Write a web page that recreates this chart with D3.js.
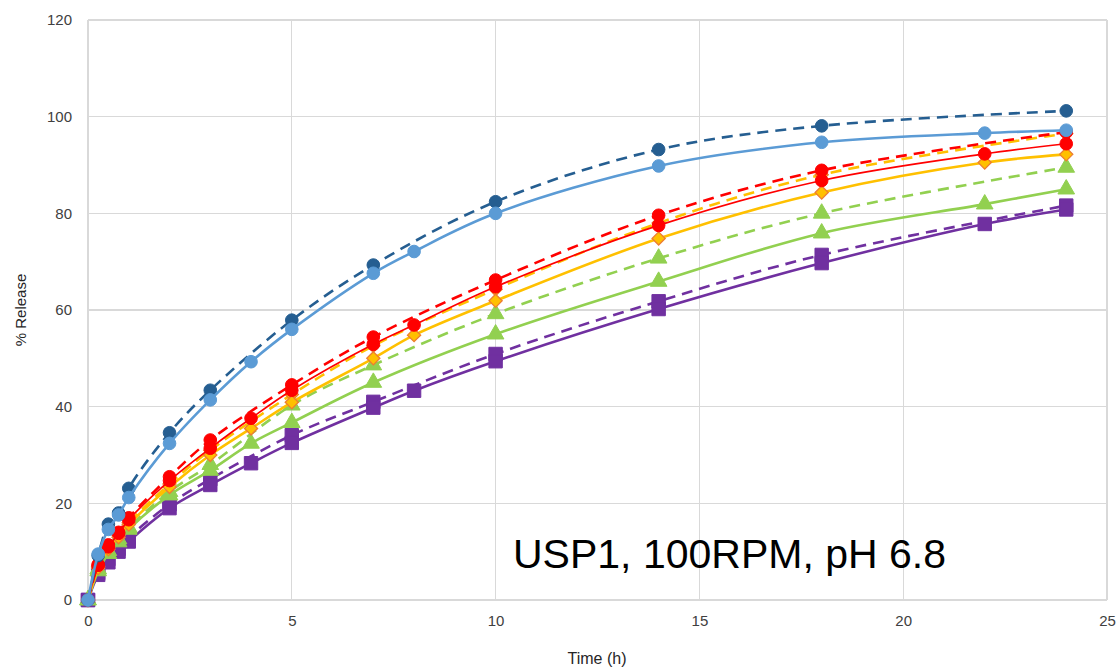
<!DOCTYPE html>
<html>
<head>
<meta charset="utf-8">
<script src="https://cdn.jsdelivr.net/npm/d3@7/dist/d3.min.js"></script>
<style>
html,body{margin:0;padding:0;background:#fff;}
svg{display:block;}
</style>
</head>
<body>
<svg id="chart" width="1120" height="668"></svg>
<script>
// ---- data ----
const tDashed = [0,0.25,0.5,0.75,1,2,3,5,7,10,14,18,24];
const tSolid  = [0,0.25,0.5,0.75,1,2,3,4,5,7,8,10,14,18,22,24];
const tGreenSolid = [0,0.25,0.5,0.75,1,2,3,4,5,7,10,14,18,22,24];

const darkBlueDashed = [0,9.2,15.7,18.0,23.1,34.6,43.4,57.9,69.3,82.4,93.2,98.1,101.2];
const lightBlueSolid = [0,9.5,14.6,17.6,21.2,32.4,41.4,49.3,56.0,67.6,72.1,80.0,89.8,94.7,96.6,97.2];
const redDashed      = [0,7.3,11.4,14.0,17.0,25.5,33.1,44.5,54.4,66.2,79.6,88.9,96.8];
const redSolid       = [0,7.2,11.0,13.8,16.6,24.7,31.4,37.6,43.4,52.9,56.9,64.8,77.5,86.8,92.3,94.4];
const yellowDashed   = [0,7.0,10.8,13.4,16.0,24.0,31.0,42.5,52.6,64.3,78.0,88.0,96.5];
const orangeSolid    = [0,6.6,10.5,13.0,15.6,23.4,30.0,35.5,40.9,50.0,54.8,61.9,74.8,84.3,90.5,92.2];
const greenDashed    = [0,6.4,10.2,12.6,15.0,22.4,28.0,40.3,48.6,59.2,70.7,80.0,89.5];
const greenSolid     = [0,6.0,9.6,12.0,14.6,21.7,26.8,32.4,36.7,45.0,55.0,65.9,75.9,81.9,85.0];
const purpleDashed   = [0,5.6,8.5,10.6,12.9,19.8,25.0,34.1,41.0,50.9,61.8,71.4,81.6];
const purpleSolid    = [0,5.2,7.8,10.0,12.1,19.0,23.8,28.3,32.5,39.8,43.3,49.4,60.2,69.7,77.8,80.8];

const xTicks = [0,5,10,15,20,25];
const yTicks = [0,20,40,60,80,100,120];
const xTitle = "Time (h)";
const yTitle = "% Release";
const annotation = "USP1, 100RPM, pH 6.8";

// series table (drawing order back to front)
const series = [
  {t:tDashed, v:purpleDashed, color:"#7030A0", dash:true,  marker:"square",  width:2.6},
  {t:tSolid,  v:purpleSolid,  color:"#7030A0", dash:false, marker:"square",  width:2.6},
  {t:tDashed, v:greenDashed,  color:"#92D050", dash:true,  marker:"triangle",width:2.6},
  {t:tGreenSolid, v:greenSolid, color:"#92D050", dash:false, marker:"triangle",width:2.6},
  {t:tDashed, v:yellowDashed, color:"#FFC000", dash:true,  marker:"diamond", width:2.6},
  {t:tSolid,  v:orangeSolid,  color:"#FFC000", dash:false, marker:"diamond", width:2.6},
  {t:tDashed, v:redDashed,    color:"#FF0000", dash:true,  marker:"circle",  width:2.6},
  {t:tSolid,  v:redSolid,     color:"#FF0000", dash:false, marker:"circle",  width:1.7},
  {t:tDashed, v:darkBlueDashed, color:"#255E91", dash:true, marker:"circle", width:2.6},
  {t:tSolid,  v:lightBlueSolid, color:"#5B9BD5", dash:false, marker:"circle", width:2.6}
];

// ---- layout ----
const svg = d3.select("#chart");
const x = d3.scaleLinear().domain([0,25]).range([88,1107]);
const y = d3.scaleLinear().domain([0,120]).range([600,20]);
const font = "'Liberation Sans', Arial, sans-serif";

// gridlines
svg.append("g").selectAll("line.h").data(yTicks).join("line")
  .attr("x1", x(0)).attr("x2", x(25))
  .attr("y1", d=>y(d)).attr("y2", d=>y(d))
  .attr("stroke","#D9D9D9").attr("stroke-width",1.2).attr("shape-rendering","crispEdges");
svg.append("g").selectAll("line.v").data(xTicks).join("line")
  .attr("x1", d=>x(d)).attr("x2", d=>x(d))
  .attr("y1", y(0)).attr("y2", y(120))
  .attr("stroke","#D9D9D9").attr("stroke-width",1.2).attr("shape-rendering","crispEdges");

// axes (labels only)
const xAxis = d3.axisBottom(x).tickValues(xTicks).tickSize(0).tickPadding(15);
const gx = svg.append("g").attr("transform",`translate(0,${y(0)})`).call(xAxis);
gx.select(".domain").remove();
gx.selectAll("text").attr("font-family",font).attr("font-size",15).attr("fill","#404040");

const yAxis = d3.axisLeft(y).tickValues(yTicks).tickSize(0).tickPadding(16);
const gy = svg.append("g").attr("transform",`translate(${x(0)},0)`).call(yAxis);
gy.select(".domain").remove();
gy.selectAll("text").attr("font-family",font).attr("font-size",15).attr("fill","#404040");

// titles
svg.append("text").attr("x",597).attr("y",664).attr("text-anchor","middle")
  .attr("font-family",font).attr("font-size",16).attr("fill","#262626").text(xTitle);
svg.append("text").attr("transform","translate(26,310) rotate(-90)").attr("text-anchor","middle")
  .attr("font-family",font).attr("font-size",15).attr("fill","#262626").text(yTitle);

// lines + markers
const line = d3.line().x(d=>x(d[0])).y(d=>y(d[1])).curve(d3.curveCatmullRom.alpha(0.5));
const sym = {
  circle: d3.symbol().type(d3.symbolCircle).size(125),
  square: d3.symbol().type(d3.symbolSquare).size(180),
  triangle: d3.symbol().type(d3.symbolTriangle).size(120),
  diamond: d3.symbol().type(d3.symbolDiamond2).size(110)
};
series.forEach(s=>{
  const pts = s.t.map((t,i)=>[t,s.v[i]]);
  const g = svg.append("g");
  g.append("path").attr("d",line(pts)).attr("fill","none")
    .attr("stroke",s.color).attr("stroke-width",s.width)
    .attr("stroke-dasharray", s.dash ? "11,7" : null);
  g.selectAll("path.m").data(pts).join("path")
    .attr("transform",d=>`translate(${x(d[0])},${y(d[1])})`)
    .attr("d", sym[s.marker]())
    .attr("fill", s.marker==="diamond" ? "#FFC000" : s.color)
    .attr("stroke", s.marker==="diamond" ? "#ED7D31" : s.color)
    .attr("stroke-width", s.marker==="diamond" ? 1.3 : 1);
});

// annotation
svg.append("text").attr("x",513).attr("y",568)
  .attr("font-family",font).attr("font-size",41).attr("fill","#000").text(annotation);
</script>
</body>
</html>
